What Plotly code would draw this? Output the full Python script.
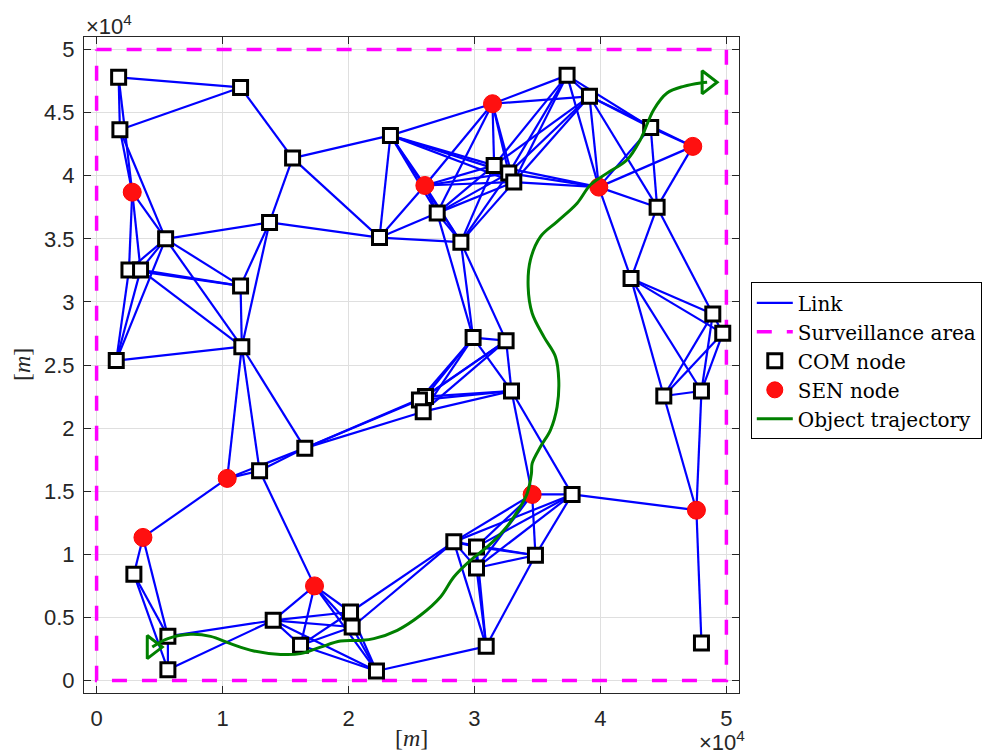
import plotly.graph_objects as go

# ---------------- data (metres) ----------------
COM_X = [1750, 11430, 1850, 15560, 23330, 5480, 13730, 22460, 2570, 3490,
         11430, 11530, 1560, 37350, 39130, 43990, 31560, 32720, 33120, 27040,
         44500, 28920, 42430, 48920, 49710, 29890, 32510, 32940, 45030, 48020,
         26110, 25630, 25930, 37750, 28360, 30160, 30160, 34840, 30930, 48020,
         16530, 12940, 2960, 20160, 20290, 14020, 16190, 5660, 5660, 22220]
COM_Y = [47800, 47000, 43650, 41400, 43200, 35000, 36300, 35100, 32540, 32540,
         31270, 26450, 25350, 47960, 46300, 43830, 40820, 40210, 39500, 37040,
         37510, 34740, 31850, 29050, 27510, 27170, 26930, 22940, 22540, 22940,
         22500, 22220, 21300, 14740, 10980, 10580, 8910, 9920, 2700, 2960,
         18410, 16610, 8410, 5420, 4230, 4760, 2780, 3490, 850, 740]

SEN_X = [2830, 31430, 47330, 26060, 39870, 34580, 47620, 10370, 3680, 17300]
SEN_Y = [38700, 45710, 42330, 39230, 39100, 14740, 13490, 16010, 11330, 7490]

LINKS = [
    ("C13", "C9"), ("C13", "C10"), ("C13", "C6"), ("C13", "C12"),
    ("C1", "C3"), ("C1", "S1"), ("C1", "C2"),
    ("C3", "S1"), ("C3", "C6"), ("C3", "C2"),
    ("C9", "S1"), ("C9", "C10"), ("C9", "C6"), ("C9", "C11"),
    ("S1", "C10"), ("S1", "C6"),
    ("C43", "S9"), ("C43", "C48"), ("C43", "C49"),
    ("C10", "C6"), ("C10", "C11"), ("C10", "C12"),
    ("S9", "C48"), ("S9", "S8"),
    ("C6", "C11"), ("C6", "C12"), ("C6", "C7"),
    ("C48", "C49"), ("C48", "C46"),
    ("C49", "C46"),
    ("S8", "C12"), ("S8", "C42"), ("S8", "C41"),
    ("C2", "C4"),
    ("C11", "C12"), ("C11", "C7"),
    ("C12", "C42"), ("C12", "C7"), ("C12", "C41"),
    ("C42", "C41"), ("C42", "S10"),
    ("C7", "C4"), ("C7", "C8"),
    ("C46", "C47"), ("C46", "S10"), ("C46", "C44"), ("C46", "C45"), ("C46", "C50"),
    ("C4", "C8"), ("C4", "C5"),
    ("C47", "S10"), ("C47", "C44"), ("C47", "C45"), ("C47", "C50"),
    ("C41", "C32"), ("C41", "C33"), ("C41", "C31"),
    ("S10", "C44"), ("S10", "C45"), ("S10", "C50"),
    ("C44", "C45"), ("C44", "C50"), ("C44", "C35"),
    ("C45", "C50"), ("C45", "C35"),
    ("C50", "C39"),
    ("C8", "C5"), ("C8", "S4"), ("C8", "C20"), ("C8", "C22"),
    ("C5", "S4"), ("C5", "C20"), ("C5", "C22"), ("C5", "S2"), ("C5", "C17"),
    ("C5", "C18"), ("C5", "C19"),
    ("C32", "C33"), ("C32", "C31"), ("C32", "C26"), ("C32", "C27"), ("C32", "C28"),
    ("C33", "C31"), ("C33", "C26"), ("C33", "C27"), ("C33", "C28"),
    ("C31", "C26"), ("C31", "C27"), ("C31", "C28"),
    ("S4", "C20"), ("S4", "C22"), ("S4", "S2"), ("S4", "C17"), ("S4", "C18"), ("S4", "C19"),
    ("C20", "C22"), ("C20", "C26"), ("C20", "S2"), ("C20", "C17"), ("C20", "C18"), ("C20", "C19"),
    ("C35", "C36"), ("C35", "C37"), ("C35", "C39"), ("C35", "S6"), ("C35", "C38"), ("C35", "C34"),
    ("C22", "C26"), ("C22", "C17"), ("C22", "C27"), ("C22", "C18"), ("C22", "C19"),
    ("C26", "C27"), ("C26", "C28"),
    ("C36", "C37"), ("C36", "C39"), ("C36", "S6"), ("C36", "C38"), ("C36", "C34"),
    ("C37", "C39"), ("C37", "S6"), ("C37", "C38"), ("C37", "C34"),
    ("C39", "C38"),
    ("S2", "C17"), ("S2", "C18"), ("S2", "C19"), ("S2", "C14"), ("S2", "C15"),
    ("C17", "C18"), ("C17", "C19"), ("C17", "C14"), ("C17", "C15"), ("C17", "S5"),
    ("C27", "C28"),
    ("C18", "C19"), ("C18", "C14"), ("C18", "C15"), ("C18", "S5"),
    ("C28", "S6"), ("C28", "C34"),
    ("C19", "C14"), ("C19", "C15"), ("C19", "S5"),
    ("S6", "C38"), ("S6", "C34"),
    ("C38", "C34"),
    ("C14", "C15"), ("C14", "S5"), ("C14", "C16"),
    ("C34", "S7"),
    ("C15", "S5"), ("C15", "C16"), ("C15", "C21"), ("C15", "S3"),
    ("S5", "C23"), ("S5", "C16"), ("S5", "C21"), ("S5", "S3"),
    ("C23", "C21"), ("C23", "C29"), ("C23", "C30"), ("C23", "C24"), ("C23", "C25"),
    ("C16", "C21"), ("C16", "S3"),
    ("C21", "S3"), ("C21", "C24"),
    ("C29", "S7"), ("C29", "C30"), ("C29", "C24"), ("C29", "C25"),
    ("S7", "C30"), ("S7", "C40"),
    ("C30", "C24"), ("C30", "C25"),
    ("C24", "C25"),
]

AREA_X = [0, 50000, 50000, 0, 0]
AREA_Y = [50000, 50000, 0, 0, 50000]

TRAJ_X = [4420, 5660, 7460, 9050, 10630, 12480, 14600, 16190, 17780, 19370,
          20950, 22010, 23870, 25710, 27300, 28360, 29680, 31010, 32330, 33390,
          34180, 34520, 34580, 35240, 36030, 36560, 36690, 36430, 35500, 34580,
          34260, 34440, 35240, 36560, 38150, 39210, 40530, 42120, 43170, 44230,
          45290, 46610, 47940, 48470]
TRAJ_Y = [2640, 3310, 3650, 3490, 2910, 2330, 2060, 2120, 2640, 3120,
          3170, 3310, 3970, 5160, 6610, 8200, 9520, 10580, 11900, 13360,
          14820, 16400, 17200, 18520, 19840, 21690, 23810, 25660, 27250, 29100,
          31210, 33330, 35180, 36370, 37830, 39290, 40210, 41270, 42860, 45240,
          46560, 47090, 47360, 47410]

X_TICKS = [0, 10000, 20000, 30000, 40000, 50000]
X_TICKTEXT = ["0", "1", "2", "3", "4", "5"]
Y_TICKS = [0, 5000, 10000, 15000, 20000, 25000, 30000, 35000, 40000, 45000, 50000]
Y_TICKTEXT = ["0", "0.5", "1", "1.5", "2", "2.5", "3", "3.5", "4", "4.5", "5"]

# ---------------- build ----------------
pos = {}
for i, (x, y) in enumerate(zip(COM_X, COM_Y)):
    pos["C%d" % (i + 1)] = (x, y)
for i, (x, y) in enumerate(zip(SEN_X, SEN_Y)):
    pos["S%d" % (i + 1)] = (x, y)

lx, ly = [], []
for a, b in LINKS:
    lx += [pos[a][0], pos[b][0], None]
    ly += [pos[a][1], pos[b][1], None]

fig = go.Figure()
fig.add_trace(go.Scatter(x=lx, y=ly, mode="lines", name="Link",
                         line=dict(color="#0000FF", width=2.2)))
fig.add_trace(go.Scatter(x=AREA_X, y=AREA_Y, mode="lines", name="Surveillance area",
                         line=dict(color="#FF00FF", width=3.5, dash="15px,15px")))
fig.add_trace(go.Scatter(x=COM_X, y=COM_Y, mode="markers", name="COM node",
                         marker=dict(symbol="square", size=14, color="white",
                                     line=dict(color="black", width=3))))
fig.add_trace(go.Scatter(x=SEN_X, y=SEN_Y, mode="markers", name="SEN node",
                         marker=dict(symbol="circle", size=18, color="#FF1010",
                                     line=dict(color="#FF0000", width=1))))
fig.add_trace(go.Scatter(x=TRAJ_X, y=TRAJ_Y, mode="lines", name="Object trajectory",
                         line=dict(color="#008000", width=3, shape="spline")))
fig.add_trace(go.Scatter(x=[TRAJ_X[0], TRAJ_X[-1]], y=[TRAJ_Y[0], TRAJ_Y[-1]],
                         mode="markers", showlegend=False,
                         marker=dict(symbol="triangle-right-open", size=20,
                                     color="#008000", line=dict(color="#008000", width=3))))

axis_common = dict(showline=True, linecolor="#262626", linewidth=1, mirror="ticks",
                   ticks="inside", ticklen=7, tickcolor="#262626", tickwidth=1,
                   showgrid=True, gridcolor="#DFDFDF", gridwidth=1, zeroline=False,
                   tickfont=dict(family="Liberation Sans", size=22, color="#262626"))

fig.update_xaxes(range=[-1000, 51000], tickvals=X_TICKS, ticktext=X_TICKTEXT,
                 ticklabelstandoff=6, **axis_common)
fig.update_yaxes(range=[-1000, 51000], tickvals=Y_TICKS, ticktext=Y_TICKTEXT,
                 ticklabelstandoff=4, **axis_common)

# the page body has an 8px margin, so the figure is a little smaller than the window
fig.update_layout(
    width=984, height=746,
    margin=dict(l=76, r=253, t=29, b=61, autoexpand=False),
    plot_bgcolor="white", paper_bgcolor="white",
    legend=dict(x=1.018, y=0.626, xanchor="left", yanchor="top",
                font=dict(family="DejaVu Serif", size=20, color="black"),
                bordercolor="black", borderwidth=1, bgcolor="white",
                tracegroupgap=0, itemwidth=36),
    annotations=[
        dict(text="×10<sup>4</sup>", xref="paper", yref="paper", x=0, y=1,
             xanchor="left", yanchor="bottom", showarrow=False, yshift=-4,
             font=dict(family="Liberation Sans", size=22, color="#262626")),
        dict(text="×10<sup>4</sup>", xref="paper", yref="paper", x=1, y=0,
             xanchor="right", yanchor="top", showarrow=False, yshift=-32, xshift=8,
             font=dict(family="Liberation Sans", size=22, color="#262626")),
        dict(text="[<i>m</i>]", xref="paper", yref="paper", x=0.5, y=0,
             xanchor="center", yanchor="top", showarrow=False, yshift=-30, xshift=0,
             font=dict(family="Liberation Serif", size=24, color="#262626")),
        dict(text="[<i>m</i>]", xref="paper", yref="paper", x=0, y=0.5,
             xanchor="center", yanchor="middle", showarrow=False, xshift=-62,
             textangle=-90,
             font=dict(family="Liberation Serif", size=24, color="#262626")),
    ],
)

fig.write_html("out.html")
